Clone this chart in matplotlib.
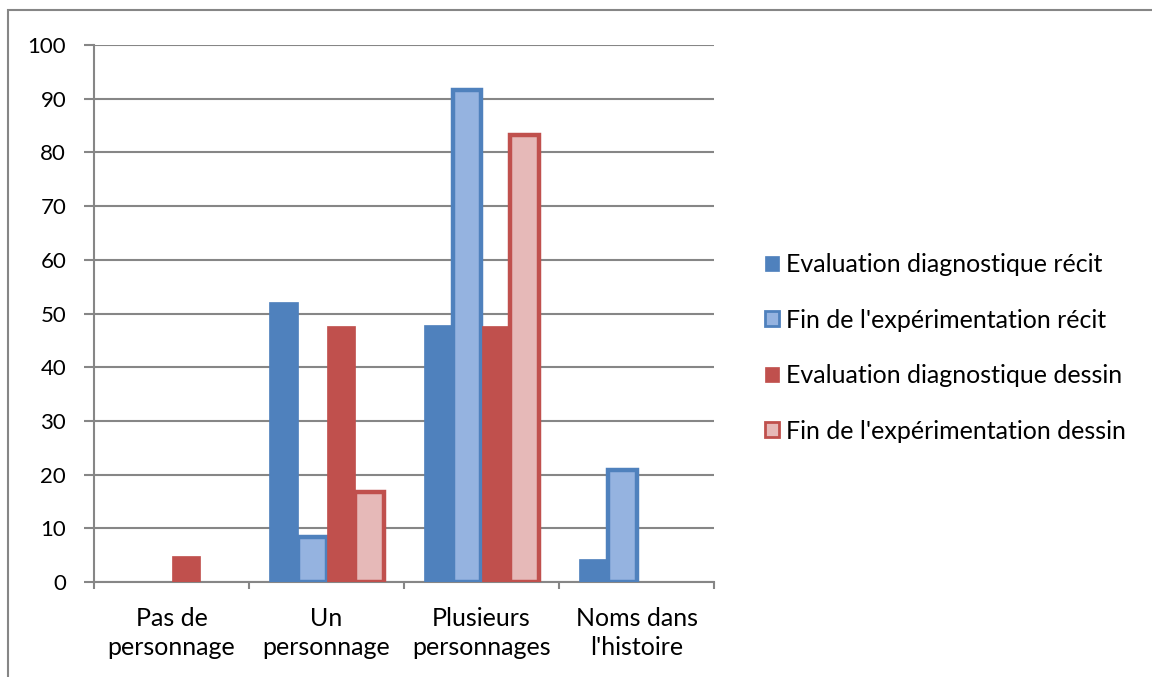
import matplotlib.pyplot as plt
import numpy as np
from matplotlib.patches import Rectangle, Patch

categories = ['Pas de\npersonnage', 'Un\npersonnage', 'Plusieurs\npersonnages', "Noms dans\nl'histoire"]
series_names = ['Evaluation diagnostique récit',
                "Fin de l'expérimentation récit",
                'Evaluation diagnostique dessin',
                "Fin de l'expérimentation dessin"]
eval_recit = [0, 52.2, 47.8, 4.3]
fin_recit = [0, 8.3, 91.7, 20.8]
eval_dessin = [4.8, 47.6, 47.6, 0]
fin_dessin = [0, 16.7, 83.3, 0]

plt.rcParams['font.family'] = ['Lato', 'DejaVu Sans']

fig = plt.figure(figsize=(11.52, 6.77), dpi=100)
ax = fig.add_axes([94 / 1152, 1 - 582 / 677, 620 / 1152, 537 / 677])

grid_col = '#868686'
# outer chart border
fig.patches.append(Rectangle((8 / 1152, -0.1), 1.2, 1 - 10 / 677 + 0.1,
                             transform=fig.transFigure, fill=False,
                             edgecolor=grid_col, linewidth=1.5, zorder=0))

x = np.arange(len(categories))
w = 0.184
styles = [
    dict(facecolor='#4F81BD', edgecolor='#4F81BD', linewidth=0.5),
    dict(facecolor='#95B3E0', edgecolor='#4F81BD', linewidth=3.2),
    dict(facecolor='#C0504D', edgecolor='#C0504D', linewidth=0.5),
    dict(facecolor='#E6B9B8', edgecolor='#C0504D', linewidth=3.2),
]
data = [eval_recit, fin_recit, eval_dessin, fin_dessin]
handles = []
for i, (vals, st) in enumerate(zip(data, styles)):
    bars = ax.bar(x + (i - 1.5) * w, vals, w, zorder=3, **st)
    for b, v in zip(bars, vals):
        if v == 0:
            b.set_visible(False)
    lw = 2.0 if st['linewidth'] > 1 else 0.5
    handles.append(Patch(facecolor=st['facecolor'], edgecolor=st['edgecolor'],
                         linewidth=lw, label=series_names[i]))

ax.set_xlim(-0.5, 3.5)
ax.set_ylim(0, 100)
ax.set_yticks(range(0, 101, 10))
ax.yaxis.grid(True, color=grid_col, linewidth=1.5, zorder=0)
ax.set_axisbelow(True)
ax.set_xticks(np.arange(-0.5, 4, 1))
ax.set_xticklabels([])
ax.set_xticks(x, minor=True)
ax.set_xticklabels(categories, minor=True, fontsize=18, linespacing=1.3)
ax.tick_params(axis='x', which='minor', length=0, pad=18)
ax.tick_params(axis='x', which='major', length=5, width=1.5, color=grid_col)
ax.tick_params(axis='y', length=7, width=1.5, color=grid_col, labelsize=16, pad=13)
for s in ['top', 'right']:
    ax.spines[s].set_visible(False)
for s in ['left', 'bottom']:
    ax.spines[s].set_color(grid_col)
    ax.spines[s].set_linewidth(1.5)

leg = fig.legend(handles=handles, loc='center left', bbox_to_anchor=(765 / 1152, 1 - 348 / 677),
                 frameon=False, fontsize=18, labelspacing=1.3, handlelength=0.55,
                 handleheight=0.55, handletextpad=0.28, borderpad=0, borderaxespad=0)

fig.savefig('out.png', dpi=100)
